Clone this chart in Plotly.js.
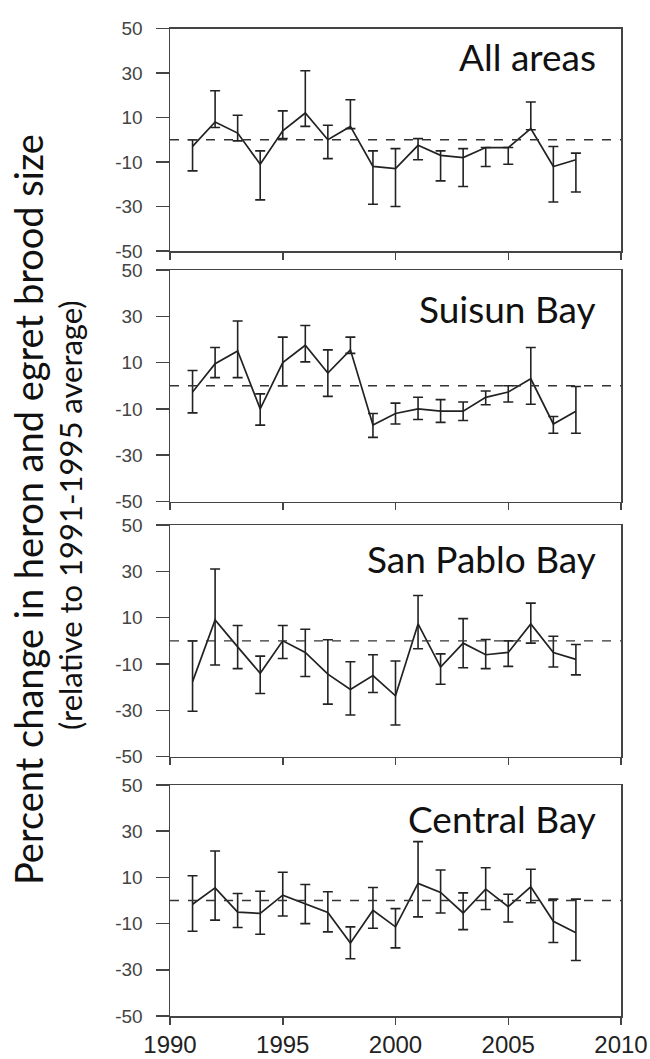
<!DOCTYPE html>
<html>
<head>
<meta charset="utf-8">
<script src="https://cdn.plot.ly/plotly-3.0.1.min.js"></script>
<style>html,body{margin:0;padding:0;background:#fff;}#chart{width:650px;height:1059px;}</style>
</head>
<body>
<div id="chart"></div>
<script>
const years = [1991,1992,1993,1994,1995,1996,1997,1998,1999,2000,2001,2002,2003,2004,2005,2006,2007,2008];

const panelNames = ["All areas", "Suisun Bay", "San Pablo Bay", "Central Bay"];

const allMean = [-3, 8, 3, -11, 4, 12, 0, 6, -12, -13, -2.5, -7, -8, -3.5, -3.5, 5, -12, -9];
const allHi   = [0, 22, 11, -5, 13, 31, 6.5, 18, -5, -4, 0.5, -5, -4, -3.5, -3.5, 17, -3, -6];
const allLo   = [-14, 5.5, -0.5, -27, 0.5, 6, -8.5, 5, -29, -30, -9, -18.5, -21, -12, -11, 4.5, -28, -23.5];

const suisunMean = [-2.7, 9.5, 15, -10, 10, 17.5, 5.5, 15.5, -17, -12, -10, -11, -11, -5, -2.7, 3, -16.5, -11];
const suisunHi   = [6.6, 16.5, 28, -3.5, 21, 26, 15.5, 21, -12, -7.5, -5, -6, -7, -2.3, 0, 16.5, -13.3, -0.3];
const suisunLo   = [-11.7, 3.5, 3.5, -17, 0, 10.3, -4.6, 14, -22.3, -16.5, -14.6, -15.8, -15, -8.2, -7, -8, -20.5, -20.5];

const sanPabloMean = [-17.6, 9, -2.6, -14, 0, -5, -14.4, -21, -15, -23.7, 7.3, -11.3, -1, -6, -5, 7.3, -5, -8];
const sanPabloHi   = [0, 31, 6.6, -6.6, 6.6, 5, 0.5, -9, -6, -8.7, 19.6, -5.6, 9.6, 0.6, 0, 16.3, 2, -1.6];
const sanPabloLo   = [-30.4, -10.4, -12, -22.7, -7.6, -15.4, -27.3, -32, -22.3, -36.3, -3.4, -18.7, -11.6, -12, -11, -1, -11.3, -14.7];

const centralMean = [-1.6, 5.5, -5, -5.6, 2.3, -1.6, -5.2, -18.4, -4.2, -11.4, 7.4, 3.5, -5.4, 4.9, -2.7, 5.9, -9, -14];
const centralHi   = [10.7, 21.4, 3, 4, 12.2, 6.9, 3.8, -11.4, 5.6, -3.5, 25.5, 13.2, 3.3, 14.2, 2.7, 13.5, 0.6, 0.6];
const centralLo   = [-13.3, -8.5, -11.7, -14.6, -6.7, -10, -13.6, -25.2, -12, -20.5, -7.1, -5.4, -12.6, -3.9, -9.3, -1, -18.2, -26];

const yTickVals = [50, 30, 10, -10, -30, -50];
const yTickText = ["50", "30", "10", "-10", "-30", "-50"];
const xTickVals = [1990, 1995, 2000, 2005, 2010];
const xTickText = ["1990", "1995", "2000", "2005", "2010"];
const yTitleLine1 = "Percent change in heron and egret brood size";
const yTitleLine2 = "(relative to 1991-1995 average)";

const series = [
  [allMean, allHi, allLo],
  [suisunMean, suisunHi, suisunLo],
  [sanPabloMean, sanPabloHi, sanPabloLo],
  [centralMean, centralHi, centralLo]
];

// pixel layout
const W = 650, H = 1059;
const mL = 170, mR = 29, mT = 28, mB = 43;
const plotH = H - mT - mB;
const panelPx = [[28.5, 251], [270, 501.5], [525, 756.7], [785, 1016]];
const titleY = [0.985, 0.94, 0.962, 0.962];
const toPaper = p => (H - mB - p) / plotH;

const traces = [];
const layout = {
  width: W, height: H,
  margin: {l: mL, r: mR, t: mT, b: mB},
  paper_bgcolor: "#fff", plot_bgcolor: "#fff",
  showlegend: false,
  font: {family: "Liberation Sans, Arial, sans-serif", color: "#333"},
  shapes: [], annotations: []
};

series.forEach((s, i) => {
  const n = i + 1;
  const xa = n === 1 ? "x" : "x" + n;
  const ya = n === 1 ? "y" : "y" + n;
  const [mean, hi, lo] = s;
  traces.push({
    type: "scatter", mode: "lines",
    x: years, y: mean,
    xaxis: xa, yaxis: ya,
    line: {color: "#222", width: 1.7},
    error_y: {
      type: "data", symmetric: false,
      array: hi.map((v, k) => v - mean[k]),
      arrayminus: mean.map((v, k) => v - lo[k]),
      color: "#222", thickness: 1.6, width: 5
    },
    hoverinfo: "skip"
  });
  const dom = [toPaper(panelPx[i][1]), toPaper(panelPx[i][0])];
  layout[n === 1 ? "xaxis" : "xaxis" + n] = {
    anchor: ya, range: [1990, 2010], domain: [0, 1],
    tickvals: xTickVals, ticktext: xTickText,
    showticklabels: n === 4,
    ticks: "outside", ticklen: 7, tickwidth: 1.5, tickcolor: "#444",
    showline: true, linecolor: "#444", linewidth: 1.5, mirror: true,
    showgrid: false, zeroline: false,
    tickfont: {size: 24, color: "#222", family: "Liberation Sans, Arial, sans-serif"}
  };
  layout[n === 1 ? "yaxis" : "yaxis" + n] = {
    anchor: xa, range: [-50, 50], domain: dom,
    tickvals: yTickVals, ticktext: yTickText,
    ticks: "outside", ticklen: 13, tickwidth: 1.5, tickcolor: "#444",
    ticklabelstandoff: 9,
    showline: true, linecolor: "#444", linewidth: 1.5, mirror: true,
    showgrid: false, zeroline: false,
    tickfont: {size: 19, color: "#444", family: "Liberation Sans, Arial, sans-serif"}
  };
  layout.shapes.push({
    type: "line", xref: xa + " domain", yref: ya,
    x0: 0, x1: 1, y0: 0, y1: 0,
    line: {color: "#333", width: 1.3, dash: "dash"}
  });
  layout.annotations.push({
    text: panelNames[i], xref: xa + " domain", yref: ya + " domain",
    x: 0.95, y: titleY[i], xanchor: "right", yanchor: "top", showarrow: false,
    font: {family: "Lato, sans-serif", size: 37, color: "#111"}
  });
});

layout.annotations.push({
  text: yTitleLine1, xref: "paper", yref: "paper",
  x: (28 - mL) / (W - mL - mR), y: toPaper(510),
  xanchor: "center", yanchor: "middle", textangle: -90, showarrow: false,
  font: {family: "Lato, sans-serif", size: 38, color: "#111"}
});
layout.annotations.push({
  text: yTitleLine2, xref: "paper", yref: "paper",
  x: (70 - mL) / (W - mL - mR), y: toPaper(515),
  xanchor: "center", yanchor: "middle", textangle: -90, showarrow: false,
  font: {family: "Lato, sans-serif", size: 31, color: "#111"}
});

Plotly.newPlot("chart", traces, layout, {displayModeBar: false, staticPlot: true});
</script>
</body>
</html>
